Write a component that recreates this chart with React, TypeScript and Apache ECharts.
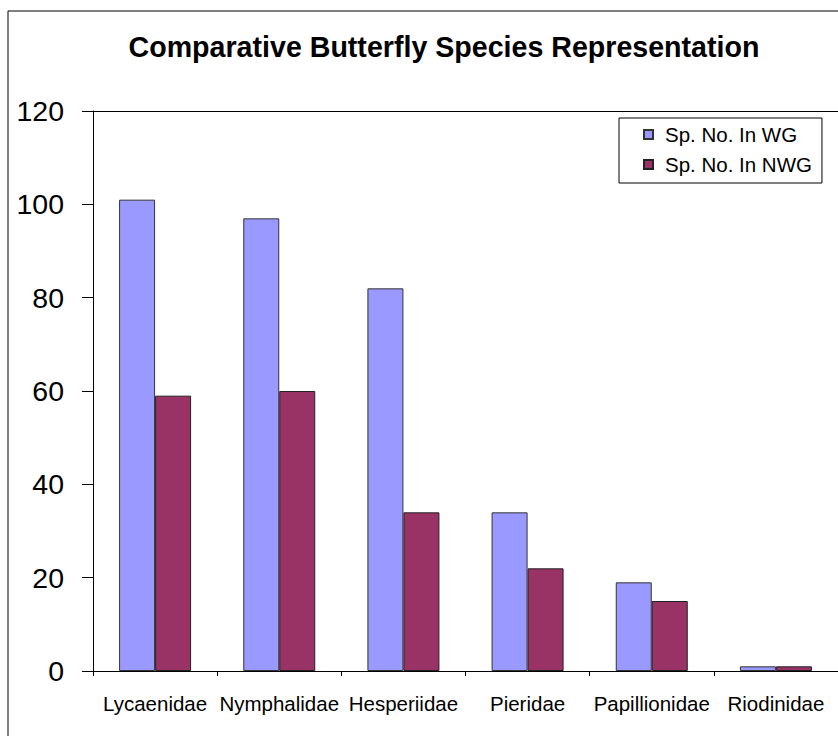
import React, { useEffect, useRef } from "react";
import * as echarts from "echarts";

const categories = ["Lycaenidae", "Nymphalidae", "Hesperiidae", "Pieridae", "Papillionidae", "Riodinidae"];
const wgValues = [101, 97, 82, 34, 19, 1];
const nwgValues = [59, 60, 34, 22, 15, 1];
const titleText = "Comparative Butterfly Species Representation";
const seriesNames = ["Sp. No. In WG", "Sp. No. In NWG"];

const FONT = "'Liberation Sans', Arial, sans-serif";

export default function App() {
  const ref = useRef<HTMLDivElement>(null);
  useEffect(() => {
    if (!ref.current) return;
    const chart = echarts.init(ref.current, null, { renderer: "svg" });
    chart.setOption({
      animation: false,
      backgroundColor: "#fff",
      textStyle: { fontFamily: FONT },
      graphic: [
        {
          type: "rect",
          shape: { x: 8, y: 11, width: 1000, height: 1000 },
          style: { fill: "none", stroke: "#000", lineWidth: 1 },
          z: -1,
        },
        {
          type: "text",
          x: 444,
          y: 47,
          style: {
            text: titleText,
            fontFamily: FONT,
            fontSize: 28.6,
            fontWeight: "bold",
            fill: "#000",
            align: "center",
            verticalAlign: "middle",
          },
        },
      ],
      legend: {
        orient: "vertical",
        left: 619,
        top: 118,
        padding: [6, 10, 8, 24],
        borderColor: "#000",
        borderWidth: 1,
        backgroundColor: "#fff",
        itemWidth: 9,
        itemHeight: 9,
        itemGap: 9,
        icon: "rect",
        data: seriesNames,
        textStyle: { fontFamily: FONT, fontSize: 20.5, color: "#000", padding: [0, 0, 0, 7] },
      },
      grid: { left: 93, top: 111, right: 0, bottom: 65, containLabel: false },
      xAxis: [
        {
          type: "category",
          data: categories,
          axisLine: { lineStyle: { color: "#000", width: 1 } },
          axisTick: { show: true, length: 5, lineStyle: { color: "#000" } },
          axisLabel: { color: "#000", fontSize: 20.5, fontFamily: FONT, margin: 22, interval: 0 },
          splitLine: { show: false },
        },
        {
          type: "category",
          position: "top",
          data: categories,
          axisLine: { lineStyle: { color: "#000", width: 1 } },
          axisTick: { show: false },
          axisLabel: { show: false },
          splitLine: { show: false },
        },
      ],
      yAxis: {
        type: "value",
        min: 0,
        max: 120,
        interval: 20,
        axisLine: { show: true, lineStyle: { color: "#000", width: 1 } },
        axisTick: { show: true, length: 11, lineStyle: { color: "#000" } },
        axisLabel: { color: "#000", fontSize: 28.5, fontFamily: FONT, margin: 29 },
        splitLine: { show: false },
      },
      series: [
        {
          name: seriesNames[0],
          type: "bar",
          data: wgValues,
          barWidth: 36,
          barGap: "0%",
          itemStyle: { color: "#9999FF", borderColor: "#333", borderWidth: 1 },
        },
        {
          name: seriesNames[1],
          type: "bar",
          data: nwgValues,
          barWidth: 36,
          barGap: "0%",
          itemStyle: { color: "#993366", borderColor: "#222", borderWidth: 1 },
        },
      ],
    });
    return () => chart.dispose();
  }, []);
  return (
    <div
      ref={ref}
      style={{ position: "absolute", left: 0, top: 0, width: 838, height: 736 }}
    />
  );
}
